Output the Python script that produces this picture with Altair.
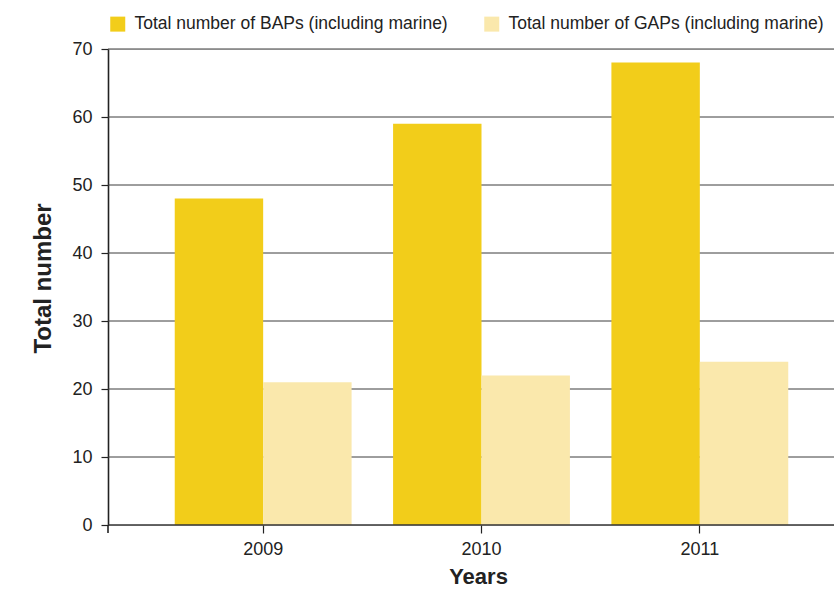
import altair as alt
import pandas as pd

years = ["2009", "2010", "2011"]
bap = [48, 59, 68]
gap = [21, 22, 24]
series = ["Total number of BAPs (including marine)", "Total number of GAPs (including marine)"]
colors = ["#F2CD1A", "#FAE8AC"]
y_ticks = [0, 10, 20, 30, 40, 50, 60, 70]

rows = []
for yr, b, g in zip(years, bap, gap):
    rows.append({"year": yr, "series": series[0], "value": b})
    rows.append({"year": yr, "series": series[1], "value": g})
df = pd.DataFrame(rows)
grid_df = pd.DataFrame({"v": [t for t in y_ticks if t > 0]})
base_df = pd.DataFrame({"v": [0]})

FONT = "Liberation Sans"
W, H = 726, 476

bars = alt.Chart(df).mark_bar().encode(
    x=alt.X(
        "year:N",
        title="Years",
        sort=years,
        scale=alt.Scale(range=[46, 701], paddingInner=0.19, paddingOuter=0.095),
        axis=alt.Axis(
            labelAngle=0, domain=False, tickColor="#222222", tickSize=8, tickWidth=1.2,
            labelFontSize=18, labelColor="#222222", labelPadding=7,
            titleFontSize=22, titleFontWeight="bold", titleColor="#222222", titlePadding=8,
            titleX=370,
            labelFont=FONT, titleFont=FONT,
        ),
    ),
    xOffset=alt.XOffset("series:N", sort=series, scale=alt.Scale(paddingInner=0, paddingOuter=0)),
    y=alt.Y(
        "value:Q",
        title="Total number",
        scale=alt.Scale(domain=[0, 70], nice=False),
        axis=alt.Axis(
            values=y_ticks, grid=False, domainColor="#222222", domainWidth=1.6, tickColor="#222222",
            tickSize=7, tickWidth=1.2,
            labelFontSize=18, labelColor="#222222", labelPadding=9,
            titleFontSize=24, titleFontWeight="bold", titleColor="#222222", titlePadding=16,
            titleY=229,
            labelFont=FONT, titleFont=FONT,
        ),
    ),
    color=alt.Color(
        "series:N",
        sort=series,
        scale=alt.Scale(domain=series, range=colors),
        legend=alt.Legend(
            title=None, orient="none", legendX=1, legendY=-34, direction="horizontal",
            symbolType="square", symbolSize=225, symbolStrokeWidth=0, labelFontSize=17.5,
            labelFont=FONT, labelColor="#222222", columnPadding=35, labelOffset=8,
            labelLimit=0,
        ),
    ),
)

grid = alt.Chart(grid_df).mark_rule(color="#3c3c3c", strokeWidth=1).encode(
    y=alt.Y("v:Q"), x=alt.value(0), x2=alt.value(W)
)

baseline = alt.Chart(base_df).mark_rule(color="#333333", strokeWidth=1.4).encode(
    y=alt.Y("v:Q"), x=alt.value(0), x2=alt.value(W)
)

corner = alt.Chart(pd.DataFrame({"k": [0]})).mark_rule(color="#222222", strokeWidth=1.6).encode(
    x=alt.value(0), y=alt.value(H), y2=alt.value(H + 8)
)

chart = alt.layer(grid, bars, baseline, corner).properties(
    width=W, height=H,
    autosize=alt.AutoSizeParams(type="none"),
    padding={"left": 108, "top": 49, "right": 0, "bottom": 65},
).configure_view(stroke=None).configure(background="white")

chart.save("out.html", embed_options={"renderer": "svg", "actions": False})
